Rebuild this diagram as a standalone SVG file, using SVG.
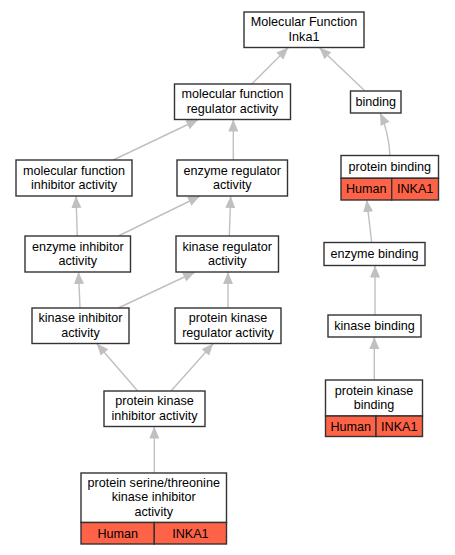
<svg xmlns="http://www.w3.org/2000/svg" width="455" height="555" viewBox="0 0 455 555">
<style>
.box{fill:#ffffff;stroke:#333333;stroke-width:1.4}
.sp{fill:#ff6347;stroke:#333333;stroke-width:1.4}
.t{font-family:"Liberation Sans",Arial,sans-serif;font-size:12.6px;fill:#000000;text-anchor:middle}
.e{fill:none;stroke:#c0c0c0;stroke-width:1.4}
</style>
<defs>
<marker id="ah" markerUnits="userSpaceOnUse" markerWidth="13" markerHeight="11" refX="12" refY="5" orient="auto">
<path d="M0,0 L12,5 L0,10 z" fill="#c0c0c0"/>
</marker>
</defs>
<rect width="455" height="555" fill="#ffffff"/>
<g id="edges">
<path class="e" marker-end="url(#ah)" d="M251.7,84 L288.3,47.5"/>
<path class="e" marker-end="url(#ah)" d="M365,91 L319.3,47.5"/>
<path class="e" marker-end="url(#ah)" d="M390,155.5 Q388.5,131 380,113"/>
<path class="e" marker-end="url(#ah)" d="M113.3,160 L198.3,119.5"/>
<path class="e" marker-end="url(#ah)" d="M233.3,160 L233.3,119.5"/>
<path class="e" marker-end="url(#ah)" d="M77.3,236 L76,196"/>
<path class="e" marker-end="url(#ah)" d="M118.3,236 L200,196"/>
<path class="e" marker-end="url(#ah)" d="M229.3,236 L230.7,196"/>
<path class="e" marker-end="url(#ah)" d="M371.7,242.5 L366.7,200"/>
<path class="e" marker-end="url(#ah)" d="M80,308 L78.5,272"/>
<path class="e" marker-end="url(#ah)" d="M118.3,308 L195,272"/>
<path class="e" marker-end="url(#ah)" d="M228,308 L228,272"/>
<path class="e" marker-end="url(#ah)" d="M375,315 L375,265.5"/>
<path class="e" marker-end="url(#ah)" d="M137.7,391 L96.7,343.5"/>
<path class="e" marker-end="url(#ah)" d="M171,391 L213.3,343.5"/>
<path class="e" marker-end="url(#ah)" d="M154.3,473 L154.3,426.5"/>
<path class="e" marker-end="url(#ah)" d="M374.3,380 L374.3,337"/>
</g>
<g id="n_mf">
<rect class="box" x="244" y="12" width="120" height="35.5"/>
<text class="t" x="304" y="26.3">Molecular Function<tspan x="304" dy="14.5">Inka1</tspan></text>
</g>
<g id="n_mfr">
<rect class="box" x="174.5" y="84" width="116" height="35.5"/>
<text class="t" x="232.5" y="98.3">molecular function<tspan x="232.5" dy="14.5">regulator activity</tspan></text>
</g>
<g id="n_binding">
<rect class="box" x="350.5" y="91" width="50.5" height="22"/>
<text class="t" x="375.75" y="106.3">binding</text>
</g>
<g id="n_mfi">
<rect class="box" x="16" y="160" width="116" height="36"/>
<text class="t" x="74" y="174.5">molecular function<tspan x="74" dy="14.5">inhibitor activity</tspan></text>
</g>
<g id="n_er">
<rect class="box" x="177" y="160" width="110.5" height="36"/>
<text class="t" x="232.25" y="174.5">enzyme regulator<tspan x="232.25" dy="14.5">activity</tspan></text>
</g>
<g id="n_pb">
<rect class="box" x="341" y="155.5" width="97.5" height="22.8"/>
<rect class="sp" x="341" y="178.3" width="50.7" height="21.7"/>
<rect class="sp" x="391.7" y="178.3" width="46.8" height="21.7"/>
<text class="t" x="389.75" y="171.2">protein binding</text>
<text class="t" x="366.3" y="193.4">Human</text>
<text class="t" x="415.1" y="193.4">INKA1</text>
</g>
<g id="n_ei">
<rect class="box" x="25" y="236" width="105.5" height="36"/>
<text class="t" x="77.75" y="250.5">enzyme inhibitor<tspan x="77.75" dy="14.5">activity</tspan></text>
</g>
<g id="n_kr">
<rect class="box" x="176" y="236" width="102.5" height="36"/>
<text class="t" x="227.25" y="250.5">kinase regulator<tspan x="227.25" dy="14.5">activity</tspan></text>
</g>
<g id="n_eb">
<rect class="box" x="324" y="242.5" width="101" height="23"/>
<text class="t" x="374.5" y="258.3">enzyme binding</text>
</g>
<g id="n_ki">
<rect class="box" x="32" y="308" width="97" height="35.5"/>
<text class="t" x="80.5" y="322.3">kinase inhibitor<tspan x="80.5" dy="14.5">activity</tspan></text>
</g>
<g id="n_pkr">
<rect class="box" x="175" y="308" width="106" height="35.5"/>
<text class="t" x="228" y="322.3">protein kinase<tspan x="228" dy="14.5">regulator activity</tspan></text>
</g>
<g id="n_kb">
<rect class="box" x="328" y="315" width="93" height="22"/>
<text class="t" x="374.5" y="330.3">kinase binding</text>
</g>
<g id="n_pki">
<rect class="box" x="104" y="391" width="101" height="35.5"/>
<text class="t" x="154.5" y="405.3">protein kinase<tspan x="154.5" dy="14.5">inhibitor activity</tspan></text>
</g>
<g id="n_pkb">
<rect class="box" x="325.5" y="380" width="97" height="36"/>
<rect class="sp" x="325.5" y="416" width="50.5" height="20.5"/>
<rect class="sp" x="376" y="416" width="46.5" height="20.5"/>
<text class="t" x="374" y="394.5">protein kinase<tspan x="374" dy="14.5">binding</tspan></text>
<text class="t" x="350.75" y="430.5">Human</text>
<text class="t" x="399.25" y="430.5">INKA1</text>
</g>
<g id="n_pst">
<rect class="box" x="81" y="473" width="145.5" height="49.5"/>
<rect class="sp" x="81" y="522.5" width="73.3" height="21.5"/>
<rect class="sp" x="154.3" y="522.5" width="72.2" height="21.5"/>
<text class="t" x="153.75" y="486.8">protein serine/threonine<tspan x="153.75" dy="14.5">kinase inhibitor</tspan><tspan x="153.75" dy="14.5">activity</tspan></text>
<text class="t" x="117.7" y="537.5">Human</text>
<text class="t" x="190.4" y="537.5">INKA1</text>
</g>
</svg>
